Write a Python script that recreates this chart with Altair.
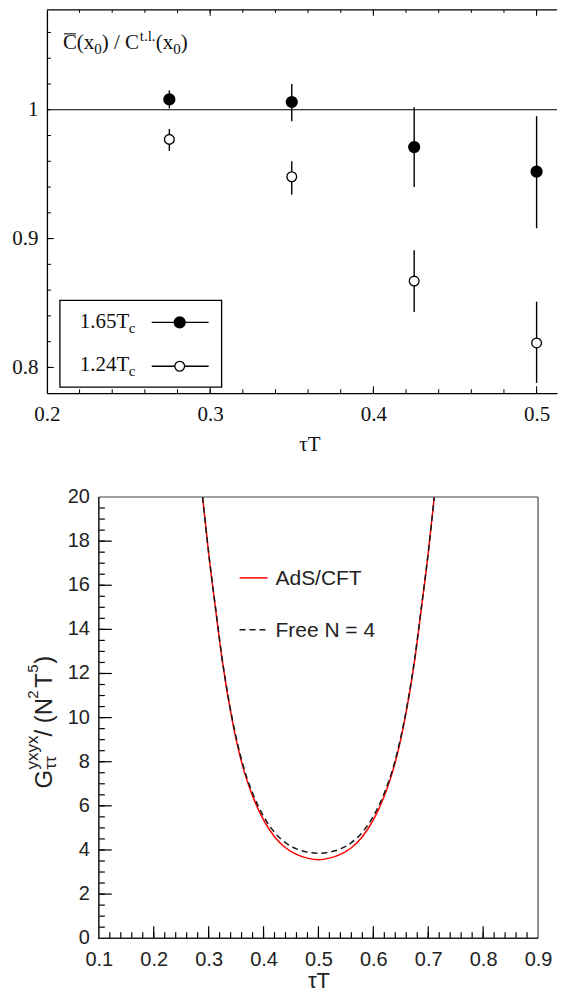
import altair as alt
import pandas as pd
import numpy as np

# ---------------- top panel data ----------------
tau_pts = [0.275, 0.35, 0.425, 0.5]
ratio_165 = [1.008, 1.006, 0.971, 0.952]
ratio_165_lo = [1.001, 0.991, 0.940, 0.908]
ratio_165_hi = [1.015, 1.020, 1.002, 0.995]
ratio_124 = [0.977, 0.948, 0.867, 0.819]
ratio_124_lo = [0.968, 0.934, 0.843, 0.788]
ratio_124_hi = [0.985, 0.960, 0.891, 0.851]
series_names = ["1.65", "1.24"]

top_x_labels = [0.2, 0.3, 0.4, 0.5]
top_y_labels = [0.8, 0.9, 1.0]

# ---------------- bottom panel data ----------------
tau_curve = [0.289, 0.300, 0.313, 0.325, 0.342, 0.362, 0.380, 0.400, 0.420, 0.440,
             0.460, 0.480, 0.500, 0.520, 0.540, 0.560, 0.580, 0.600, 0.620, 0.638,
             0.658, 0.675, 0.687, 0.700, 0.711]
g_ads = [20.0, 17.45, 14.85, 12.55, 10.0, 7.8, 6.45, 5.36, 4.6, 4.1,
         3.8, 3.63, 3.56, 3.63, 3.8, 4.1, 4.6, 5.36, 6.45, 7.8,
         10.0, 12.55, 14.85, 17.45, 20.0]
g_free = [20.0, 17.48, 14.9, 12.61, 10.08, 7.9, 6.58, 5.53, 4.8, 4.33,
          4.05, 3.9, 3.85, 3.9, 4.05, 4.33, 4.8, 5.53, 6.58, 7.9,
          10.08, 12.61, 14.9, 17.48, 20.0]

bot_x_labels = [0.1, 0.2, 0.3, 0.4, 0.5, 0.6, 0.7, 0.8, 0.9]
bot_y_labels = [0, 2, 4, 6, 8, 10, 12, 14, 16, 18, 20]

SERIF = "Liberation Serif"
SANS = "Liberation Sans"
INK = "#111111"
INK2 = "#222222"
dummy = pd.DataFrame({"d": [0]})


def txt(s, x, y, size, font, angle=0, color=INK):
    return alt.Chart(dummy).mark_text(
        font=font, fontSize=size, align="left", baseline="alphabetic",
        angle=angle, color=color
    ).encode(x=alt.value(x), y=alt.value(y), text=alt.value(s))


def hline(x1, x2, y, color="black", width=1.3, dash=None):
    kw = dict(color=color, strokeWidth=width)
    if dash:
        kw["strokeDash"] = dash
    return alt.Chart(dummy).mark_rule(**kw).encode(
        x=alt.value(x1), x2=alt.value(x2), y=alt.value(y))


def vline(x, y1, y2, color="black", width=1.3):
    return alt.Chart(dummy).mark_rule(color=color, strokeWidth=width).encode(
        x=alt.value(x), y=alt.value(y1), y2=alt.value(y2))


def ticks_x(values, scale, axis, y1, y2, width=1.0):
    return alt.Chart(pd.DataFrame({"v": values})).mark_rule(color="black", strokeWidth=width).encode(
        x=alt.X("v:Q", scale=scale, axis=axis, title=None), y=alt.value(y1), y2=alt.value(y2))


def ticks_y(values, scale, axis, x1, x2, width=1.0):
    return alt.Chart(pd.DataFrame({"v": values})).mark_rule(color="black", strokeWidth=width).encode(
        y=alt.Y("v:Q", scale=scale, axis=axis, title=None), x=alt.value(x1), x2=alt.value(x2))


# ================= TOP PANEL =================
W1, H1 = 511, 384
xs1 = alt.Scale(domain=[0.2, 0.5125], nice=False, zero=False)
ys1 = alt.Scale(domain=[0.78, 1.0775], nice=False, zero=False)

df_pts = pd.DataFrame({
    "tau": tau_pts * 2,
    "r": ratio_165 + ratio_124,
    "lo": ratio_165_lo + ratio_124_lo,
    "hi": ratio_165_hi + ratio_124_hi,
    "series": [series_names[0]] * 4 + [series_names[1]] * 4,
})

ax_x1 = alt.Axis(values=top_x_labels, format=".1f", ticks=False, grid=False,
                 domain=True, domainColor="black", domainWidth=1.3,
                 labelFont=SERIF, labelFontSize=21, labelColor=INK, labelPadding=10,
                 labelFlush=False, labelOverlap=False,
                 title="τT", titleFont=SERIF, titleFontSize=21, titleFontWeight="normal",
                 titleColor=INK, titlePadding=9, titleX=263)
ax_y1 = alt.Axis(values=top_y_labels,
                 labelExpr="datum.value == 1 ? '1' : format(datum.value, '.1f')",
                 ticks=False, grid=False,
                 domain=True, domainColor="black", domainWidth=1.3,
                 labelFont=SERIF, labelFontSize=21, labelColor=INK, labelPadding=9,
                 minExtent=39, maxExtent=39, title=None)

err = alt.Chart(df_pts).mark_rule(color="black", strokeWidth=1.4).encode(
    x=alt.X("tau:Q", scale=xs1, axis=ax_x1, title="τT"),
    y=alt.Y("lo:Q", scale=ys1, axis=ax_y1, title=None),
    y2="hi:Q",
)
filled_pts = alt.Chart(df_pts).transform_filter(alt.datum.series == "1.65").mark_point(
    shape="circle", filled=True, fill="black", stroke="black", size=105, opacity=1
).encode(x=alt.X("tau:Q", scale=xs1, axis=ax_x1, title="τT"),
         y=alt.Y("r:Q", scale=ys1, axis=ax_y1, title=None))
open_pts = alt.Chart(df_pts).transform_filter(alt.datum.series == "1.24").mark_point(
    shape="circle", filled=True, fill="white", stroke="black", strokeWidth=1.3, size=95, opacity=1
).encode(x=alt.X("tau:Q", scale=xs1, axis=ax_x1, title="τT"),
         y=alt.Y("r:Q", scale=ys1, axis=ax_y1, title=None))

one_line = alt.Chart(dummy).mark_rule(color="black", strokeWidth=1.2).encode(
    y=alt.Y(datum=1.0, scale=ys1, axis=ax_y1, title=None), x=alt.value(0), x2=alt.value(W1))

top_frame = hline(0, W1, 0, width=1.3)

x_minor1 = [round(v, 2) for v in np.arange(0.22, 0.5101, 0.02)]
y_minor1 = [round(v, 2) for v in np.arange(0.80, 1.0701, 0.02)]
x_major1 = [0.3, 0.4, 0.5]

tick_layers1 = [
    ticks_x(x_minor1, xs1, ax_x1, H1, H1 - 4),
    ticks_x(x_major1, xs1, ax_x1, H1, H1 - 7),
    ticks_x(x_minor1, xs1, ax_x1, 0, 3),
    ticks_x(x_major1, xs1, ax_x1, 0, 6),
    ticks_y(y_minor1, ys1, ax_y1, 0, 4),
    ticks_y([0.8, 0.9], ys1, ax_y1, 0, 7),
]

# annotation  C̄(x0) / C^{t.l.}(x0)
ann = [
    txt("C", 16, 39, 21, SERIF),
    hline(17, 29, 24, color=INK, width=1.1),
    txt("(x", 30, 39, 21, SERIF),
    txt("0", 47.5, 44, 15, SERIF),
    txt(") / C", 55, 39, 21, SERIF),
    txt("t.l.", 93, 31, 15, SERIF),
    txt("(x", 109, 39, 21, SERIF),
    txt("0", 126.5, 44, 15, SERIF),
    txt(")", 134, 39, 21, SERIF),
]

legend_box = alt.Chart(dummy).mark_rect(fill="white", stroke="black", strokeWidth=1.3).encode(
    x=alt.value(13), x2=alt.value(175), y=alt.value(291), y2=alt.value(378))
leg1 = [
    legend_box,
    txt("1.65T", 33, 319, 21, SERIF),
    txt("c", 82, 324, 15, SERIF),
    hline(105, 162, 313, width=1.3),
    alt.Chart(dummy).mark_point(shape="circle", filled=True, fill="black", stroke="black",
                                size=105, opacity=1).encode(x=alt.value(133), y=alt.value(313)),
    txt("1.24T", 33, 362, 21, SERIF),
    txt("c", 82, 367, 15, SERIF),
    hline(105, 162, 357, width=1.3),
    alt.Chart(dummy).mark_point(shape="circle", filled=True, fill="white", stroke="black",
                                strokeWidth=1.3, size=95, opacity=1).encode(x=alt.value(133), y=alt.value(357)),
]

top = alt.layer(
    err, one_line, top_frame, *tick_layers1, filled_pts, open_pts, *ann, *leg1
).properties(width=W1, height=H1)

# ================= BOTTOM PANEL =================
# the group is 52px wider on the left than the visible plot box (aligned with the top panel)
P = 52
PW = 440
W2, H2 = P + PW, 442
xs2 = alt.Scale(domain=[0.1 - 0.8 * P / PW, 0.9], nice=False, zero=False)
ys2 = alt.Scale(domain=[0, 20], nice=False, zero=False)

df_curve = pd.DataFrame({"tau": tau_curve, "ads": g_ads, "free": g_free})
df_ylab = pd.DataFrame({"v": bot_y_labels, "lab": [str(v) for v in bot_y_labels]})

ax_x2 = alt.Axis(values=bot_x_labels, format=".1f", ticks=False, grid=False, domain=False,
                 labelFont=SANS, labelFontSize=20, labelColor=INK2, labelPadding=11,
                 labelFlush=False, labelOverlap=False,
                 title="τT", titleFont=SANS, titleFontSize=22, titleFontWeight="normal",
                 titleColor=INK2, titlePadding=1, titleX=P + PW / 2)

ads_line = alt.Chart(df_curve).mark_line(color="#ff0000", strokeWidth=1.5, interpolate="monotone").encode(
    x=alt.X("tau:Q", scale=xs2, axis=ax_x2, title="τT"),
    y=alt.Y("ads:Q", scale=ys2, axis=None))
free_line = alt.Chart(df_curve).mark_line(color="#1a1a1a", strokeWidth=1.5, strokeDash=[6, 4],
                                          interpolate="monotone").encode(
    x=alt.X("tau:Q", scale=xs2, axis=ax_x2, title="τT"),
    y=alt.Y("free:Q", scale=ys2, axis=None))

ylabels2 = alt.Chart(df_ylab).mark_text(font=SANS, fontSize=20, color=INK2, align="right",
                                        baseline="middle").encode(
    y=alt.Y("v:Q", scale=ys2, axis=None), x=alt.value(P - 9), text="lab:N")

x_minor2 = [round(v, 2) for v in np.arange(0.12, 0.8901, 0.02)]
x_major2 = [0.2, 0.3, 0.4, 0.5, 0.6, 0.7, 0.8]
y_minor2 = [round(v, 1) for v in np.arange(0.5, 19.51, 0.5)]
y_major2 = [2, 4, 6, 8, 10, 12, 14, 16, 18]

tick_layers2 = [
    ticks_x(x_minor2, xs2, ax_x2, H2, H2 - 6, 1.2),
    ticks_x(x_major2, xs2, ax_x2, H2, H2 - 12, 1.2),
    ticks_y(y_minor2, ys2, None, P, P + 6, 1.2),
    ticks_y(y_major2, ys2, None, P, P + 13, 1.2),
]
frame2 = [
    hline(P, W2, 0, color="#444444", width=1.2),
    vline(W2, 0, H2, color="#444444", width=1.2),
    hline(P - 0.8, W2, H2, color=INK2, width=1.6),
    vline(P, 0, H2 + 0.8, color=INK2, width=1.6),
]

leg2 = [
    hline(P + 141, P + 169, 81, color="#ff0000", width=1.5),
    txt("AdS/CFT", P + 177, 88, 21, SANS, color=INK2),
    hline(P + 141, P + 169, 133, color="#1a1a1a", width=1.5, dash=[6, 4]),
    txt("Free N = 4", P + 177, 140, 21, SANS, color=INK2),
]

ytitle = [
    txt("G", P - 47, 292, 24, SANS, angle=270, color=INK2),
    txt("ττ", P - 43, 273, 17, SANS, angle=270, color=INK2),
    txt("yxyx", P - 61, 273, 17, SANS, angle=270, color=INK2),
    txt("/ (N", P - 47, 240, 24, SANS, angle=270, color=INK2),
    txt("2", P - 61, 202, 15, SANS, angle=270, color=INK2),
    txt("T", P - 47, 191, 24, SANS, angle=270, color=INK2),
    txt("5", P - 61, 176, 15, SANS, angle=270, color=INK2),
    txt(")", P - 47, 167, 24, SANS, angle=270, color=INK2),
]

bottom = alt.layer(
    ads_line, free_line, ylabels2, *tick_layers2, *frame2, *leg2, *ytitle
).properties(width=W2, height=H2)

chart = alt.vconcat(top, bottom, spacing=33).resolve_scale(
    x="independent", y="independent"
).properties(
    padding={"left": 0, "top": 0, "right": 0, "bottom": 0}
).configure_view(stroke=None)

chart.save("out.html", embed_options={"renderer": "svg", "actions": False})
